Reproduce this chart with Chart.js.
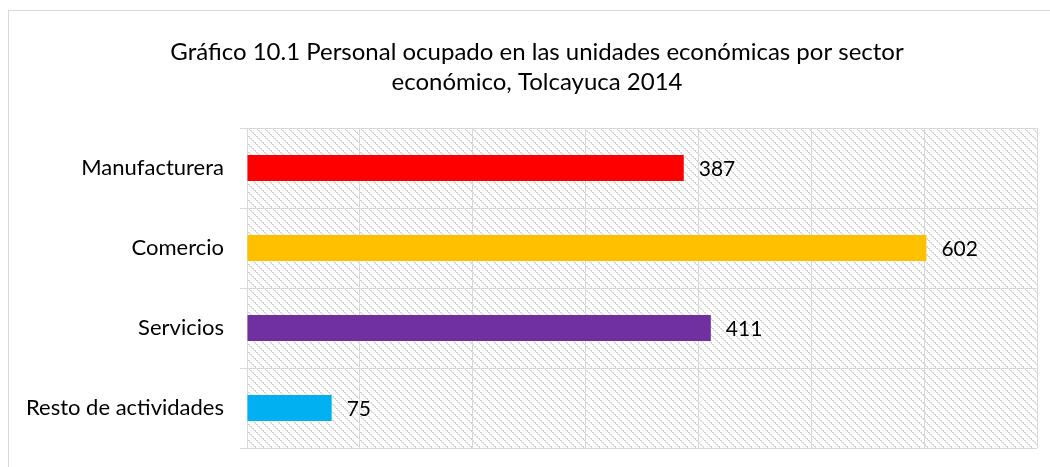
<!DOCTYPE html>
<html>
<head>
<meta charset="utf-8">
<script src="https://cdn.jsdelivr.net/npm/chart.js@4"></script>
<style>
  html, body { margin: 0; padding: 0; background: #fff; }
  #wrap { position: relative; width: 1050px; height: 467px; overflow: hidden; }
  #frame { position: absolute; left: 8px; top: 10px; width: 1100px; height: 500px;
           border-left: 1px solid #d9d9d9; border-top: 1px solid #d9d9d9; box-sizing: border-box; }
  canvas { position: absolute; left: 0; top: 0; }
</style>
</head>
<body>
<div id="wrap">
  <div id="frame"></div>
  <canvas id="c" width="1050" height="467"></canvas>
</div>
<script>
const categories = ['Manufacturera', 'Comercio', 'Servicios', 'Resto de actividades'];
const personal = [387, 602, 411, 75];
const barColors = ['#FF0000', '#FFC000', '#7030A0', '#00B0F0'];
const titleLines = ['Gráfico 10.1 Personal ocupado en las unidades económicas por sector', 'económico, Tolcayuca 2014'];

const FONT = 'Lato, "Open Sans", sans-serif';

// Diagonal hatch used as the plot-area fill
function makeHatch(ctx) {
  const t = document.createElement('canvas');
  t.width = 8; t.height = 8;
  const g = t.getContext('2d');
  g.fillStyle = '#ffffff';
  g.fillRect(0, 0, 8, 8);
  g.fillStyle = '#d6d6d6';
  for (let i = 0; i < 8; i++) {
    g.fillRect(i, i, 1, 1);
    if (i % 2 === 0) g.fillRect((i + 1) % 8, i, 1, 1);
  }
  return ctx.createPattern(t, 'repeat');
}

const hatchPlugin = {
  id: 'hatch',
  beforeDraw(chart) {
    const { ctx, chartArea: a } = chart;
    ctx.save();
    ctx.fillStyle = makeHatch(ctx);
    ctx.fillRect(a.left, a.top, a.right - a.left, a.bottom - a.top);
    ctx.restore();
  }
};

// Two-line heading, centred over the framed chart
const headingPlugin = {
  id: 'heading',
  afterDraw(chart) {
    const { ctx } = chart;
    ctx.save();
    ctx.font = '24px ' + FONT;
    ctx.fillStyle = '#000';
    ctx.textAlign = 'center';
    ctx.textBaseline = 'middle';
    titleLines.forEach((line, i) => ctx.fillText(line, 537, 52 + i * 30));
    ctx.restore();
  }
};

// Value printed just past the end of each bar
const valueLabels = {
  id: 'valueLabels',
  afterDatasetsDraw(chart) {
    const { ctx } = chart;
    const meta = chart.getDatasetMeta(0);
    ctx.save();
    ctx.font = '21px ' + FONT;
    ctx.fillStyle = '#000';
    ctx.textAlign = 'left';
    ctx.textBaseline = 'middle';
    meta.data.forEach((bar, i) => {
      ctx.fillText(String(chart.data.datasets[0].data[i]), bar.x + 15, bar.y + 1);
    });
    ctx.restore();
  }
};

new Chart(document.getElementById('c'), {
  type: 'bar',
  data: {
    labels: categories,
    datasets: [{
      data: personal,
      backgroundColor: barColors,
      borderWidth: 0,
      categoryPercentage: 0.65,
      barPercentage: 0.5
    }]
  },
  options: {
    indexAxis: 'y',
    responsive: false,
    animation: false,
    layout: { padding: { left: 0, right: 13, top: 128, bottom: 19 } },
    plugins: {
      legend: { display: false },
      tooltip: { enabled: false },
      title: { display: false }
    },
    scales: {
      x: {
        min: 0, max: 700,
        afterFit(scale) { scale.height = 0; scale.paddingLeft = 0; scale.paddingRight = 0; },
        ticks: { display: false, stepSize: 100 },
        grid: { color: '#d9d9d9', lineWidth: 1, drawTicks: false },
        border: { display: false }
      },
      y: {
        afterFit(scale) { scale.width = 247; scale.paddingTop = 0; scale.paddingBottom = 0; },
        ticks: { color: '#000', font: { family: FONT, size: 22 }, padding: 16 },
        grid: { color: '#d9d9d9', lineWidth: 1, tickLength: 7, offset: true },
        border: { color: '#d9d9d9' }
      }
    }
  },
  plugins: [hatchPlugin, valueLabels, headingPlugin]
});
</script>
</body>
</html>
